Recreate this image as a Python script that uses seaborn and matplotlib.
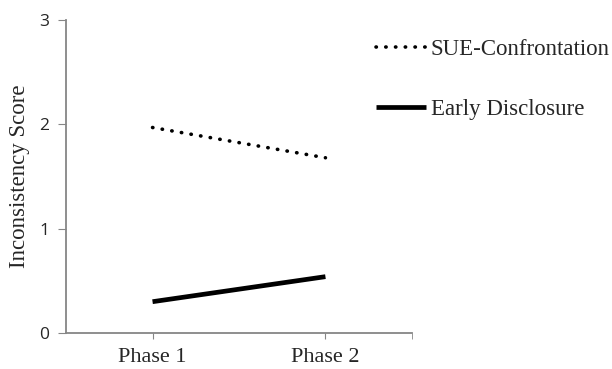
# Imports
import numpy as np
import pandas as pd
import seaborn as sns
import matplotlib.pyplot as plt
from matplotlib.ticker import FixedLocator


# Data
PHASES = ["Phase 1", "Phase 2"]
SUE_CONFRONTATION = [1.97, 1.68]
EARLY_DISCLOSURE = [0.30, 0.54]
GROUPS = ["SUE-Confrontation", "Early Disclosure"]
Y_TICKS = [0, 1, 2, 3]

df = pd.DataFrame({
    "phase": PHASES * 2,
    "score": SUE_CONFRONTATION + EARLY_DISCLOSURE,
    "group": [GROUPS[0]] * 2 + [GROUPS[1]] * 2})


# Display
sns.set_style("ticks")
plt.rcParams["font.family"] = ["Liberation Serif", "DejaVu Serif"]
axis_color = "#868686"
widths = {GROUPS[0]: 2.6, GROUPS[1]: 3.4}

fig = plt.figure(figsize=(6.12, 3.69), dpi=100)
ax = fig.add_axes([0.108, 0.0976, 0.565, 0.848])
sns.lineplot(data=df, x="phase", y="score", hue="group", style="group",
             palette={g: "black" for g in GROUPS},
             dashes={GROUPS[0]: (0.1, 2.6), GROUPS[1]: ""},
             hue_order=GROUPS, sort=False, ax=ax)
for line, g in zip(ax.lines, GROUPS):
    line.set_linewidth(widths[g])
    line.set_dash_capstyle("round")
    line.set_solid_capstyle("butt")

ax.set_xlim(-0.5, 1.5)
ax.set_ylim(0, 3)
ax.set_yticks(Y_TICKS)
ax.set_yticklabels([str(t) for t in Y_TICKS], family="Open Sans",
                   fontsize=12.5)
ax.set_xticks(range(len(PHASES)))
ax.set_xticklabels(PHASES, fontsize=16)
ax.xaxis.set_minor_locator(FixedLocator([1.5]))
ax.tick_params(axis="x", which="both", direction="out", length=4,
               color=axis_color, pad=7)
ax.tick_params(axis="y", direction="out", length=6, color=axis_color,
               pad=6)
ax.set_xlabel("")
ax.set_ylabel("Inconsistency Score", fontsize=16.5, labelpad=7)
for side in ("top", "right"):
    ax.spines[side].set_visible(False)
for side in ("left", "bottom"):
    ax.spines[side].set_color(axis_color)
    ax.spines[side].set_linewidth(1.3)

handles, labels = ax.get_legend_handles_labels()
leg = ax.legend(handles, labels, loc="upper left",
                bbox_to_anchor=(0.58, 0.95), bbox_transform=fig.transFigure,
                frameon=False, fontsize=16.5, handlelength=2.2,
                handletextpad=0.2, labelspacing=1.7)
for h, g in zip(leg.get_lines(), labels):
    h.set_linewidth(widths[g])
    h.set_dash_capstyle("round")
    h.set_solid_capstyle("butt")

fig.savefig("out.png", dpi=100)
